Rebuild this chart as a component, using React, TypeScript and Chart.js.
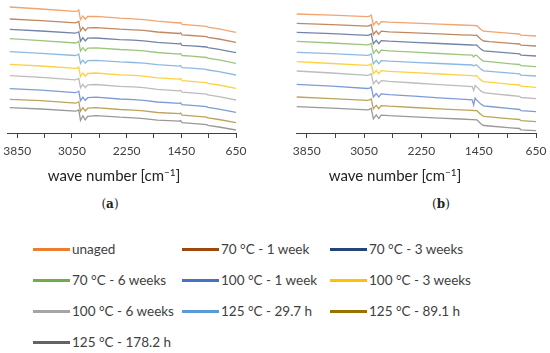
import React, { useEffect, useRef } from "react";
import { Chart, registerables } from "chart.js";
Chart.register(...registerables);

// ---------- data ----------
const seriesNames = [
  "unaged",
  "70 °C - 1 week",
  "70 °C - 3 weeks",
  "70 °C - 6 weeks",
  "100 °C - 1 week",
  "100 °C - 3 weeks",
  "100 °C - 6 weeks",
  "125 °C - 29.7 h",
  "125 °C - 89.1 h",
  "125 °C - 178.2 h",
];
const seriesColors = [
  "#ED7D31", "#9E480E", "#264478", "#70AD47", "#4472C4",
  "#FFC000", "#A5A5A5", "#5B9BD5", "#997300", "#636363",
];
const lineColors = [
  "rgba(237,125,49,0.7)", "rgba(158,72,14,0.65)", "rgba(38,68,120,0.65)", "rgba(112,173,71,0.7)", "rgba(68,114,196,0.7)",
  "rgba(255,192,0,0.75)", "rgba(165,165,165,0.75)", "rgba(91,155,213,0.7)", "rgba(153,115,0,0.65)", "rgba(99,99,99,0.65)",
];

const tickValues = [650, 1050, 1450, 1850, 2250, 2650, 3050, 3450, 3850];
const labeledTicks = [650, 1450, 2250, 3050, 3850];

// panel (a)
const waveA = [3960, 3500, 3000, 2970, 2950, 2925, 2890, 2855, 2820, 2700, 2350, 2150, 2000, 1800, 1480, 1460, 1440, 1300, 1080, 1060, 900, 650];
const a_unaged = [126.0, 124.0, 121.6, 122.2, 123.0, 113.5, 117.0, 113.8, 116.5, 116.6, 114.8, 114.2, 113.4, 111.8, 110.0, 110.6, 108.6, 107.9, 106.6, 105.9, 104.2, 100.7];
const a_70_1w = [114.0, 112.3, 110.2, 110.8, 111.6, 102.1, 105.6, 102.4, 105.1, 105.4, 103.8, 103.2, 102.6, 101.0, 99.5, 100.1, 98.1, 97.5, 96.4, 95.7, 94.0, 90.7];
const a_70_3w = [103.7, 102.0, 99.9, 100.5, 101.3, 91.8, 95.3, 92.1, 94.8, 95.0, 93.4, 92.8, 92.2, 90.6, 89.1, 89.7, 87.7, 87.1, 86.0, 85.3, 83.6, 80.3];
const a_70_6w = [94.3, 92.4, 90.0, 90.6, 91.4, 81.9, 85.4, 82.2, 84.9, 85.2, 83.5, 82.9, 82.1, 80.5, 78.9, 79.5, 77.5, 76.8, 75.5, 74.8, 73.1, 69.7];
const a_100_1w = [44.3, 42.8, 40.4, 41.0, 41.8, 32.3, 35.8, 32.6, 35.3, 35.8, 34.0, 33.4, 32.6, 31.0, 29.7, 30.3, 28.3, 27.6, 26.3, 25.6, 23.9, 20.7];
const a_100_3w = [68.7, 67.0, 64.6, 65.2, 66.0, 56.5, 60.0, 56.8, 59.5, 60.0, 58.2, 57.6, 56.8, 55.2, 53.8, 54.4, 52.4, 51.7, 50.4, 49.7, 48.0, 44.7];
const a_100_6w = [57.3, 55.6, 53.2, 53.8, 54.6, 45.1, 48.6, 45.4, 48.1, 48.5, 46.7, 46.1, 45.3, 43.7, 42.2, 42.8, 40.8, 40.1, 38.8, 38.1, 36.4, 33.0];
const a_125_29h = [81.3, 79.6, 77.5, 78.1, 78.9, 69.4, 72.9, 69.7, 72.4, 72.7, 71.1, 70.5, 69.9, 68.3, 66.8, 67.4, 65.4, 64.8, 63.7, 63.0, 61.3, 58.0];
const a_125_89h = [33.7, 32.3, 29.9, 30.5, 31.3, 21.8, 25.3, 22.1, 24.8, 25.3, 23.5, 22.9, 22.1, 20.5, 19.3, 19.9, 17.9, 17.2, 15.9, 15.2, 13.5, 10.3];
const a_125_178h = [25.3, 24.0, 21.8, 22.4, 23.2, 12.5, 17.2, 13.2, 16.7, 17.4, 15.8, 15.2, 14.4, 12.8, 11.8, 12.4, 10.4, 9.7, 8.4, 7.7, 6.0, 3.0];

// panel (b)
const waveB = [3990, 3500, 3000, 2975, 2950, 2920, 2880, 2845, 2810, 2700, 2350, 2000, 1700, 1540, 1520, 1500, 1480, 1455, 1420, 1380, 1300, 1000, 880, 860, 650];
const b_unaged = [119.0, 117.8, 116.4, 116.8, 118.0, 108.0, 111.5, 108.3, 111.3, 110.8, 109.8, 108.8, 108.0, 107.6, 107.5, 107.4, 107.6, 106.0, 103.5, 101.8, 101.3, 99.6, 99.0, 97.8, 97.0];
const b_70_1w = [109.7, 108.4, 106.9, 107.3, 108.5, 98.5, 102.0, 98.8, 101.8, 101.2, 100.2, 99.1, 98.2, 97.8, 97.7, 97.6, 97.8, 96.2, 93.7, 92.0, 91.4, 89.7, 89.0, 87.8, 87.0];
const b_70_3w = [100.7, 99.3, 97.6, 98.0, 99.2, 89.2, 92.7, 89.4, 92.4, 91.8, 90.7, 89.5, 88.5, 88.0, 87.9, 87.8, 88.0, 86.4, 83.9, 82.2, 81.6, 79.8, 79.1, 77.9, 77.0];
const b_70_6w = [91.7, 90.0, 88.1, 88.5, 89.7, 79.6, 83.1, 79.8, 82.8, 82.2, 80.8, 79.5, 78.4, 77.8, 76.0, 77.8, 77.7, 76.1, 73.6, 71.8, 71.3, 69.2, 68.5, 67.3, 66.3];
const b_100_1w = [48.7, 46.8, 44.5, 44.9, 46.1, 36.0, 39.4, 36.1, 39.1, 38.4, 36.8, 35.2, 33.9, 33.2, 28.0, 35.0, 33.1, 31.4, 28.9, 27.1, 26.5, 24.3, 23.5, 22.3, 21.3];
const b_100_3w = [71.3, 69.5, 67.6, 68.0, 69.2, 59.1, 62.6, 59.3, 62.3, 61.7, 60.3, 59.0, 57.9, 57.3, 57.2, 57.1, 57.3, 55.6, 53.1, 51.3, 50.8, 48.7, 48.0, 46.8, 45.7];
const b_100_6w = [62.0, 60.0, 57.7, 58.1, 59.3, 49.2, 52.6, 49.3, 52.3, 51.6, 50.0, 48.4, 47.1, 46.4, 42.5, 47.5, 46.3, 44.6, 42.1, 40.3, 39.7, 37.5, 36.7, 35.5, 34.3];
const b_125_29h = [80.7, 79.3, 77.6, 78.0, 79.2, 69.2, 72.7, 69.4, 72.4, 71.8, 70.7, 69.5, 68.5, 68.0, 67.0, 67.8, 68.0, 66.4, 63.9, 62.2, 61.6, 59.8, 59.1, 57.9, 57.0];
const b_125_89h = [36.0, 34.4, 32.6, 33.0, 34.2, 24.2, 27.6, 24.4, 27.4, 26.8, 25.5, 24.2, 23.2, 22.6, 22.5, 22.4, 22.6, 21.0, 18.5, 16.7, 16.2, 14.2, 13.5, 12.3, 11.3];
const b_125_178h = [26.3, 24.8, 23.1, 23.5, 24.7, 14.0, 18.1, 14.5, 17.9, 17.3, 16.1, 14.9, 14.0, 13.4, 13.3, 13.2, 13.4, 11.8, 9.3, 7.5, 7.0, 5.1, 4.5, 3.2, 2.3];

const seriesA = [a_unaged, a_70_1w, a_70_3w, a_70_6w, a_100_1w, a_100_3w, a_100_6w, a_125_29h, a_125_89h, a_125_178h];
const seriesB = [b_unaged, b_70_1w, b_70_3w, b_70_6w, b_100_1w, b_100_3w, b_100_6w, b_125_29h, b_125_89h, b_125_178h];

const FONT = "Lato, 'Open Sans', sans-serif";

function Panel(props: { wave: number[]; series: number[][]; width: number; padLeft: number; padRight: number }) {
  const ref = useRef<HTMLCanvasElement | null>(null);
  useEffect(() => {
    if (!ref.current) return;
    const chart = new Chart(ref.current, {
      type: "line",
      data: {
        datasets: props.series.map((vals, si) => ({
          label: seriesNames[si],
          data: props.wave.map((w, i) => ({ x: w, y: vals[i] })),
          borderColor: lineColors[si],
          borderWidth: 1.3,
          pointRadius: 0,
          tension: 0,
          fill: false,
        })),
      },
      options: {
        animation: false,
        responsive: false,
        devicePixelRatio: 1,
        layout: { padding: { left: props.padLeft, right: props.padRight, top: 0, bottom: 0 } },
        plugins: { legend: { display: false }, tooltip: { enabled: false }, title: { display: false } },
        scales: {
          x: {
            type: "linear",
            reverse: true,
            min: 650,
            max: 4000,
            afterBuildTicks: (scale: any) => {
              scale.ticks = tickValues.map((v) => ({ value: v }));
            },
            afterFit: (scale: any) => {
              scale.height = 57;
            },
            ticks: {
              autoSkip: false,
              maxRotation: 0,
              padding: 6,
              color: "#404040",
              font: { family: FONT, size: 12 },
              callback: (v: any) => (labeledTicks.includes(Number(v)) ? String(v) : ""),
            },
            grid: { display: true, drawOnChartArea: false, drawTicks: true, tickLength: 5, color: "#404040" },
            border: { display: true, color: "#404040", width: 1 },
          },
          y: { display: false, min: 0, max: 133 },
        },
      },
    });
    return () => chart.destroy();
  }, []);
  return <canvas ref={ref} width={props.width} height={190} style={{ width: props.width, height: 190, display: "block" }} />;
}

const legendCols = [33, 182, 330];
const legendRows = [249, 280, 311, 342];

export default function App() {
  return (
    <div style={{ position: "fixed", left: 0, top: 0, width: 550, height: 353, background: "#fff", overflow: "hidden" }}>
      <div style={{ position: "absolute", left: 0, top: 0 }}>
        <Panel wave={waveA} series={seriesA} width={250} padLeft={7} padRight={14} />
      </div>
      <div style={{ position: "absolute", left: 250, top: 0 }}>
        <Panel wave={waveB} series={seriesB} width={300} padLeft={46} padRight={14} />
      </div>
      {[114, 395].map((cx, i) => (
        <div key={"t" + i} style={{ position: "absolute", left: cx - 90, top: 165, width: 180, textAlign: "center", fontFamily: FONT, fontSize: 15, lineHeight: "20px", color: "#222", whiteSpace: "nowrap" }}>
          wave number [cm<sup style={{ fontSize: 10, verticalAlign: "top", lineHeight: "14px" }}>−1</sup>]
        </div>
      ))}
      {[
        { cx: 110, t: "a" },
        { cx: 441, t: "b" },
      ].map((p) => (
        <div key={p.t} style={{ position: "absolute", left: p.cx - 20, top: 196, width: 40, textAlign: "center", fontFamily: "'DejaVu Serif', 'Liberation Serif', serif", fontSize: 12, lineHeight: "16px", color: "#222" }}>
          (<b>{p.t}</b>)
        </div>
      ))}
      {seriesNames.map((name, i) => (
        <div key={name} style={{ position: "absolute", left: legendCols[i % 3], top: legendRows[Math.floor(i / 3)] - 10, height: 20, display: "flex", alignItems: "center", whiteSpace: "nowrap", fontFamily: FONT, fontSize: 13.5, color: "#404040" }}>
          <span style={{ display: "inline-block", width: 37, height: 3, background: seriesColors[i], marginRight: 2 }} />
          <span>{name}</span>
        </div>
      ))}
    </div>
  );
}
